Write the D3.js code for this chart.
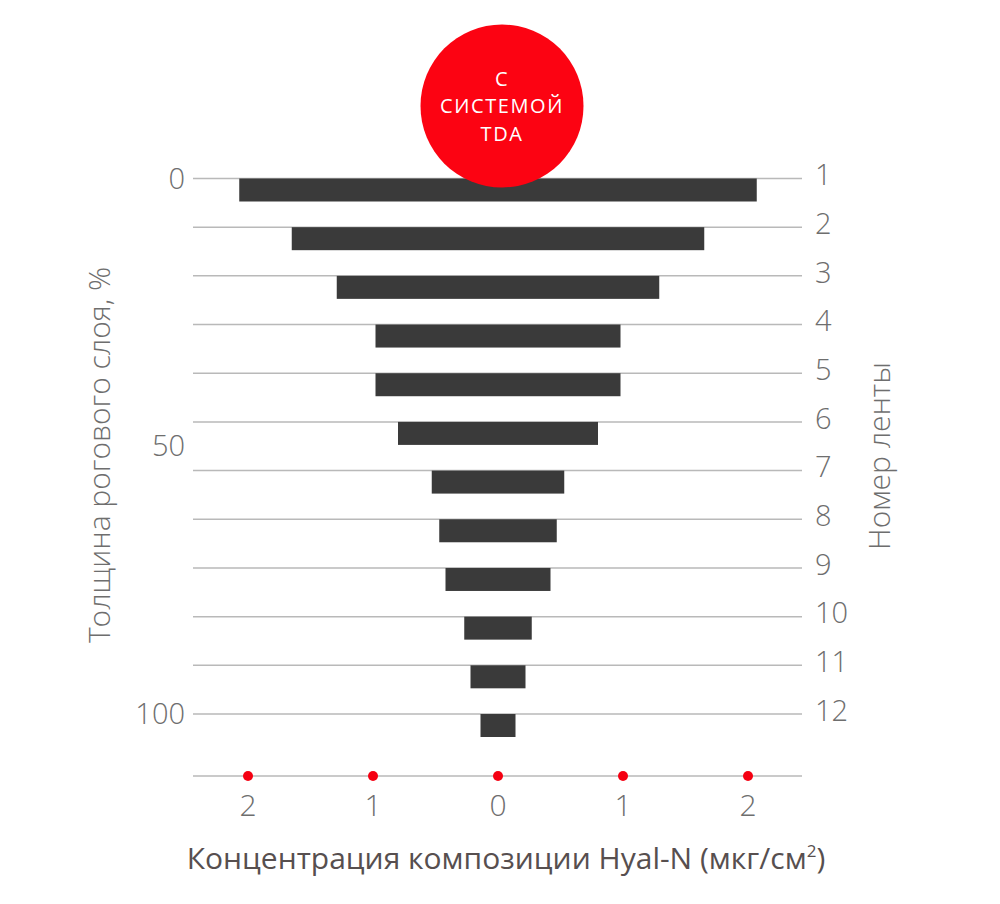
<!DOCTYPE html>
<html>
<head>
<meta charset="utf-8">
<script src="https://cdn.jsdelivr.net/npm/d3@7"></script>
<style>
  body { margin: 0; background: #fff; }
  text { font-family: "Open Sans", Lato, sans-serif; }
</style>
</head>
<body>
<div id="chart"></div>
<script>
// data
var strips = [1, 2, 3, 4, 5, 6, 7, 8, 9, 10, 11, 12];
var hyalN = [2.07, 1.65, 1.29, 0.98, 0.98, 0.80, 0.53, 0.47, 0.42, 0.27, 0.22, 0.14];
var thicknessTicks = [0, 50, 100];
var concTicks = [-2, -1, 0, 1, 2];
var badgeLines = ["С", "СИСТЕМОЙ", "TDA"];

// manually set sizes
var width = 1000,
    height = 904,
    gridLeft = 193,
    gridRight = 802,
    axisY = 776,
    barHeight = 23;

var svg = d3.select("#chart")
  .append("svg")
    .attr("width", width)
    .attr("height", height);

// x scale: concentration, mirrored around 0
var x = d3.scaleLinear()
    .domain([-2, 2])
    .range([248, 748]);

// y scale: strip number
var y = d3.scaleLinear()
    .domain([1, 12])
    .range([178.5, 714]);

// left scale: thickness of stratum corneum, %
var yPct = d3.scaleLinear()
    .domain([0, 100])
    .range([178.5, 714]);

// grid lines, one per strip
svg.append("g")
  .selectAll("line")
  .data(strips)
  .join("line")
    .attr("x1", gridLeft)
    .attr("x2", gridRight)
    .attr("y1", function(d) { return y(d); })
    .attr("y2", function(d) { return y(d); })
    .attr("stroke", "#b9b9b9")
    .attr("stroke-width", 1.5);

// bars hanging under each line
svg.append("g")
  .selectAll("rect")
  .data(hyalN)
  .join("rect")
    .attr("x", function(d) { return x(-d); })
    .attr("width", function(d) { return x(d) - x(-d); })
    .attr("y", function(d, i) { return y(strips[i]); })
    .attr("height", barHeight)
    .attr("fill", "#3a3a3a");

// left labels
svg.append("g")
  .selectAll("text")
  .data(thicknessTicks)
  .join("text")
    .attr("x", 185)
    .attr("y", function(d) { return yPct(d); })
    .attr("dy", "0.35em")
    .attr("text-anchor", "end")
    .attr("font-size", 29)
    .style("font-weight", 300)
    .attr("fill", "#6e6e6e")
    .text(function(d) { return d; });

// right labels (strip numbers)
svg.append("g")
  .selectAll("text")
  .data(strips)
  .join("text")
    .attr("x", 815)
    .attr("y", function(d) { return y(d) - 3.5; })
    .attr("dy", "0.35em")
    .attr("font-size", 29)
    .style("font-weight", 300)
    .attr("fill", "#6e6e6e")
    .text(function(d) { return d; });

// bottom axis
svg.append("line")
    .attr("x1", gridLeft)
    .attr("x2", gridRight)
    .attr("y1", axisY)
    .attr("y2", axisY)
    .attr("stroke", "#b9b9b9")
    .attr("stroke-width", 1.5);

svg.append("g")
  .selectAll("circle")
  .data(concTicks)
  .join("circle")
    .attr("cx", function(d) { return x(d); })
    .attr("cy", axisY)
    .attr("r", 5)
    .attr("fill", "#f50012");

svg.append("g")
  .selectAll("text")
  .data(concTicks)
  .join("text")
    .attr("x", function(d) { return x(d); })
    .attr("y", 805)
    .attr("dy", "0.35em")
    .attr("text-anchor", "middle")
    .attr("font-size", 30)
    .style("font-weight", 300)
    .attr("fill", "#6e6e6e")
    .text(function(d) { return Math.abs(d); });

// axis titles
var xTitle = svg.append("text")
    .attr("x", 506)
    .attr("y", 869)
    .attr("text-anchor", "middle")
    .attr("font-size", 30)
    .style("font-weight", 400)
    .attr("fill", "#574f4f");
xTitle.append("tspan").text("Концентрация композиции Hyal-N (мкг/см");
xTitle.append("tspan").attr("font-size", 17).attr("dy", -12).text("2");
xTitle.append("tspan").attr("dy", 12).text(")");

svg.append("text")
    .attr("transform", "translate(110,455) rotate(-90)")
    .attr("text-anchor", "middle")
    .attr("font-size", 30)
    .style("font-weight", 300)
    .attr("fill", "#6e6e6e")
    .text("Толщина рогового слоя, %");

svg.append("text")
    .attr("transform", "translate(890,456) rotate(-90)")
    .attr("text-anchor", "middle")
    .attr("font-size", 30)
    .style("font-weight", 300)
    .attr("fill", "#6e6e6e")
    .text("Номер ленты");

// red badge on top
var badge = svg.append("g")
    .attr("transform", "translate(502,106)");

badge.append("circle")
    .attr("r", 81.5)
    .attr("fill", "#fc0312");

badge.selectAll("text")
  .data(badgeLines)
  .join("text")
    .attr("x", 0)
    .attr("y", function(d, i) { return (i - 1) * 27.5; })
    .attr("dy", "0.35em")
    .attr("text-anchor", "middle")
    .attr("font-size", 20)
    .attr("letter-spacing", 1.6)
    .style("font-weight", 400)
    .attr("fill", "#fff")
    .text(function(d) { return d; });
</script>
</body>
</html>
